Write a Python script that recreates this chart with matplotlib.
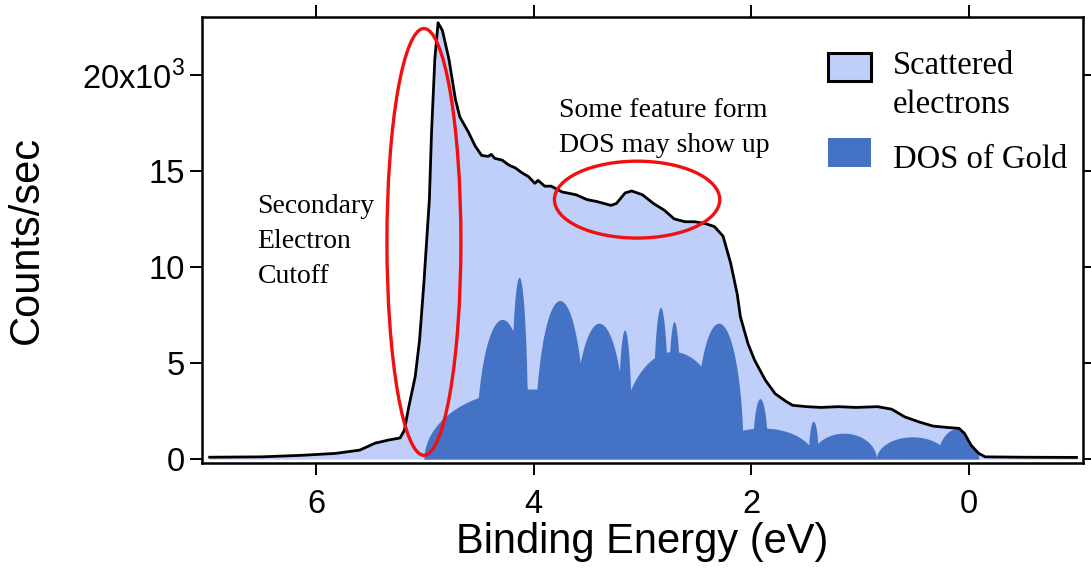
import numpy as np
import matplotlib
matplotlib.use("Agg")
from matplotlib import pyplot as plt
from matplotlib.patches import Ellipse, Rectangle

plt.rcParams['font.family'] = ['Liberation Sans', 'DejaVu Sans']
plt.rcParams['mathtext.fontset'] = 'custom'
plt.rcParams['mathtext.rm'] = 'Liberation Sans'

# scattered electrons spectrum (binding energy in eV, counts in 10^3/sec)
energy = [6.98, 6.5, 6.13, 5.82, 5.6, 5.46, 5.33, 5.23, 5.19, 5.15, 5.09, 5.05,
          5.01, 4.96, 4.94, 4.91, 4.88, 4.84, 4.78, 4.72, 4.68, 4.60, 4.54, 4.48,
          4.42, 4.39, 4.36, 4.29, 4.23, 4.17, 4.11, 4.05, 3.99, 3.96, 3.90, 3.84,
          3.74, 3.61, 3.51, 3.42, 3.29, 3.24, 3.16, 3.10, 3.00, 2.90, 2.80, 2.71,
          2.61, 2.52, 2.42, 2.34, 2.26, 2.19, 2.13, 2.10, 2.03, 1.97, 1.87, 1.78,
          1.68, 1.62, 1.49, 1.36, 1.20, 1.04, 0.84, 0.71, 0.59, 0.46, 0.33, 0.20,
          0.09, 0.04, -0.02, -0.09, -0.15, -0.5, -0.99]
counts = [0.10, 0.12, 0.20, 0.30, 0.47, 0.83, 1.0, 1.1, 1.5, 2.7, 4.3, 6.2,
          9.2, 13.5, 17.0, 20.8, 22.7, 22.3, 20.8, 18.7, 17.8, 17.0, 16.3, 15.8,
          15.75, 15.85, 15.65, 15.55, 15.3, 15.15, 14.9, 14.7, 14.35, 14.5, 14.2, 14.2,
          13.9, 13.75, 13.5, 13.4, 13.2, 13.3, 13.85, 13.95, 13.75, 13.3, 12.95, 12.5,
          12.35, 12.35, 12.25, 12.1, 11.6, 10.2, 8.6, 7.4, 6.0, 5.15, 4.1, 3.4,
          3.0, 2.8, 2.73, 2.69, 2.73, 2.69, 2.73, 2.6, 2.2, 1.94, 1.72, 1.65,
          1.6, 1.34, 0.73, 0.30, 0.12, 0.10, 0.09]

# DOS of gold drawn as overlapping domes: centre (eV), half width (eV), height
dos_center = [4.05, 4.29, 4.135, 3.76, 3.40, 3.165, 2.72, 2.835, 2.71, 2.30,
              1.90, 1.92, 1.43, 1.15, 0.52, 0.10]
dos_halfw = [0.96, 0.245, 0.08, 0.235, 0.245, 0.065, 0.51, 0.075, 0.065, 0.225,
             0.48, 0.07, 0.045, 0.30, 0.33, 0.19]
dos_height = [3.65, 7.27, 9.46, 8.25, 7.07, 6.72, 5.6, 7.9, 7.15, 7.07,
              1.62, 3.15, 1.97, 1.35, 1.16, 1.6]

yticks = [0, 5, 10, 15, 20]
ytick_labels = ['0', '5', '10', '15', r'20x10$^{3}$']
xticks = [6, 4, 2, 0]

light = '#BFCFFA'
dark = '#4472C4'

fig = plt.figure(figsize=(10.91, 5.74), dpi=100)
ax = fig.add_axes([0.1852, 0.1934, 0.8075, 0.777])

e = np.array(energy)
c = np.array(counts)
ax.fill_between(e, 0, c, color=light, lw=0, zorder=1)

grid = np.linspace(5.1, -0.2, 3000)
dos = np.zeros_like(grid)
for cen, hw, h in zip(dos_center, dos_halfw, dos_height):
    arc = h * np.sqrt(np.clip(1 - ((grid - cen) / hw) ** 2, 0, None))
    dos = np.maximum(dos, arc)
dos = np.minimum(dos, np.interp(grid, e[::-1], c[::-1]))
ax.fill_between(grid, 0, dos, color=dark, lw=0, zorder=2)

ax.plot(e, c, color='black', lw=2.0, zorder=3)

ax.add_patch(Ellipse((5.01, 11.3), 0.68, 22.2, fill=False, ec='#F01010', lw=2.4, zorder=4))
ax.add_patch(Ellipse((3.05, 13.5), 1.52, 4.0, fill=False, ec='#F01010', lw=2.4, zorder=4))

serif = 'Liberation Serif'
for txt, yb in zip(['Secondary', 'Electron', 'Cutoff'], [12.81, 10.99, 9.17]):
    ax.text(6.54, yb, txt, family=serif, fontsize=20, va='baseline', ha='left')
for txt, yb in zip(['Some feature form', 'DOS may show up'], [17.81, 15.99]):
    ax.text(3.764, yb, txt, family=serif, fontsize=20, va='baseline', ha='left')

# legend
ax.add_patch(Rectangle((0.7106, 0.8565), 0.0488, 0.0628, transform=ax.transAxes,
                       fc=light, ec='black', lw=2.2, zorder=5))
ax.add_patch(Rectangle((0.7106, 0.6637), 0.0488, 0.065, transform=ax.transAxes,
                       fc=dark, ec='none', zorder=5))
for txt, yb in zip(['Scattered', 'electrons', 'DOS of Gold'], [0.872, 0.785, 0.661]):
    ax.text(0.784, yb, txt, family=serif, fontsize=23.5, va='baseline', ha='left',
            transform=ax.transAxes)

ax.set_xlim(7.05, -1.05)
ax.set_ylim(-0.2, 23.0)
ax.set_xticks(xticks)
ax.set_yticks(yticks)
ax.set_yticklabels(ytick_labels)
ax.tick_params(direction='out', length=8.5, width=1.4, top=True, right=True,
               labelsize=23.5)
ax.tick_params(axis='x', pad=10)
ax.tick_params(axis='y', pad=4)
for s in ax.spines.values():
    s.set_linewidth(1.8)

ax.set_xlabel('Binding Energy (eV)', fontsize=30, labelpad=2)
ax.set_ylabel('Counts/sec', fontsize=30)
ax.yaxis.set_label_coords(-0.176, 0.5)

fig.savefig('out.png', dpi=100)
